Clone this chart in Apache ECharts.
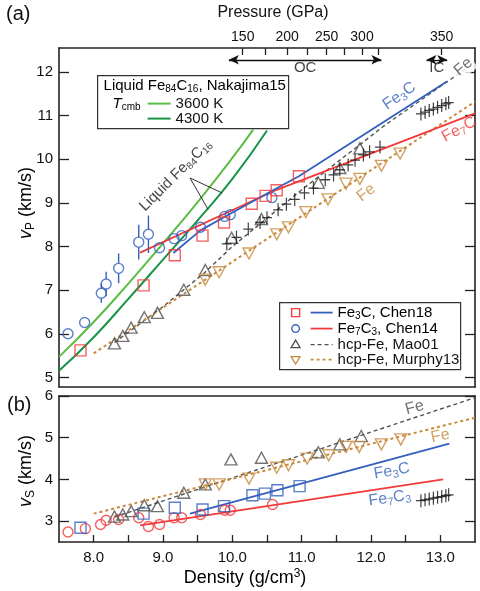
<!DOCTYPE html>
<html><head><meta charset="utf-8">
<script src="https://cdn.jsdelivr.net/npm/echarts@6/dist/echarts.min.js"></script>
<style>html,body{margin:0;padding:0;background:#fff}#c{width:480px;height:591px}</style>
</head><body><div id="c"></div>
<script>
// ---------- data: density (g/cm3) vs velocity (km/s) ----------
// panel (a): P-wave velocity
const liq3600 = [[7.5,5.47],[8.0,6.27],[8.5,7.15],[9.0,8.07],[9.5,9.02],[10.0,10.03],[10.3,10.68]];
const liq4300 = [[7.5,5.15],[8.0,5.92],[8.5,6.8],[9.0,7.7],[9.5,8.6],[10.0,9.55],[10.5,10.66]];
const fe3cSqA = [[7.81,5.62],[8.72,7.11],[9.17,7.80],[9.57,8.25],[9.88,8.55],[10.28,8.98],[10.48,9.16],[10.64,9.29],[10.96,9.61]];
const fe3cLineA = [[9.15,7.85],[9.54,8.37],[9.97,8.75],[10.6,9.3],[10.96,9.61],[13.1,11.79]];
const fe7c3CircA = [[7.63,6.0],[7.87,6.26],[8.11,6.93],[8.18,7.14],[8.36,7.50],[8.65,8.10],[8.79,8.28],[8.95,7.97],[9.16,8.18],[9.27,8.25],[9.54,8.44],[9.89,8.69],[9.97,8.73],[10.57,9.12]];
const fe7c3ErrA = [0,0,0.22,0.28,0.34,0.40,0.43,0,0,0,0,0,0.10,0];
const fe7c3LineA = [[8.67,7.86],[10.64,9.30],[13.5,11.05]];
const maoTriA = [[8.30,5.78],[8.42,5.95],[8.54,6.14],[8.73,6.38],[8.92,6.48],[9.30,7.01],[9.61,7.46],[9.99,8.20],[10.42,8.63],[11.24,9.46],[11.55,9.80],[11.84,10.25]];
const maoLineA = [[8.3,5.8],[9.0,6.62],[9.6,7.4],[10.0,8.0],[11.0,9.3],[12.2,10.78],[13.5,12.22]];
const murTriA = [[9.61,7.24],[9.81,7.41],[10.24,7.84],[10.64,8.28],[10.81,8.44],[11.06,8.79],[11.38,9.08],[11.64,9.44],[11.84,9.55],[12.15,9.85],[12.42,10.13]];
const murLineA = [[8.0,5.55],[9.0,6.6],[10.0,7.65],[11.0,8.7],[12.0,9.75],[13.5,11.32]];
const crossesA = [[9.92,8.06],[10.06,8.21],[10.23,8.40],[10.40,8.55],[10.50,8.66],[10.66,8.84],[10.78,8.97],[10.90,9.08],[11.04,9.23],[11.17,9.34],[11.34,9.53],[11.46,9.64],[11.55,9.76],[11.67,9.87],[11.77,9.98],[11.89,10.10],[11.98,10.17],[12.13,10.28],[12.72,11.04],[12.78,11.08],[12.84,11.12],[12.90,11.15],[12.96,11.19],[13.02,11.23],[13.08,11.27],[13.12,11.30]];

// panel (b): S-wave velocity
const fe3cSqB = [[7.81,2.84],[8.72,3.18],[9.17,3.32],[9.57,3.28],[9.88,3.36],[10.29,3.62],[10.47,3.66],[10.65,3.74],[10.97,3.84]];
const fe3cLineB = [[9.39,3.18],[13.13,4.86]];
const fe7c3CircB = [[7.63,2.74],[7.88,2.82],[8.10,2.92],[8.18,3.02],[8.36,3.04],[8.65,3.08],[8.79,2.87],[8.95,2.92],[9.16,3.08],[9.27,3.08],[9.54,3.16],[9.89,3.26],[9.97,3.26],[10.58,3.40]];
const fe7c3LineB = [[8.67,2.90],[13.04,4.0]];
const maoTriB = [[8.30,3.11],[8.42,3.16],[8.54,3.24],[8.73,3.38],[8.92,3.36],[9.30,3.68],[9.61,3.88],[9.98,4.48],[10.42,4.52],[11.24,4.65],[11.55,4.84],[11.86,5.04]];
const maoLineB = [[8.3,3.1],[13.5,5.96]];
const murTriB = [[9.61,3.88],[9.81,3.88],[10.24,4.02],[10.64,4.28],[10.81,4.34],[11.08,4.50],[11.39,4.58],[11.64,4.78],[11.83,4.78],[12.15,4.84],[12.43,4.96]];
const murLineB = [[8.0,3.18],[13.5,5.48]];
const crossesB = [[12.72,3.49],[12.78,3.51],[12.84,3.53],[12.90,3.55],[12.96,3.57],[13.02,3.59],[13.08,3.61],[13.12,3.63]];

// axes
const densityLabels = [8,9,10,11,12,13];
const densityTicks = [8,8.5,9,9.5,10,10.5,11,11.5,12,12.5,13];
const vpTicks = [5,6,7,8,9,10,11,12];
const vsTicks = [3,4,5,6];
const pressureLabels = [150,200,250,300,350];
const pressureLabelDensity = [10.15,10.79,11.36,11.87,13.02];
const pressureTickDensity = [10.15,10.47,10.79,11.08,11.36,11.62,11.87,12.1,13.02];
// core regions along density: outer core and inner core
const outerCore = [9.95,12.15];
const innerCore = [12.8,13.1];

// ---------- styling ----------
const FONT = '"Liberation Sans", Arial, Helvetica, sans-serif';
const RED = '#f23a3a', BLUE = '#3360bd', GRAY = '#505050', ORANGE = '#c78a3c';
const GREEN_L = '#5cbd45', GREEN_D = '#179448';
const AX = '#222';

const chart = echarts.init(document.getElementById('c'), null, {renderer: 'canvas'});

const richBase = (size, color) => ({
  n: {fontSize: size, color, fontFamily: FONT, lineHeight: size + 3},
  s: {fontSize: Math.round(size * 0.66), color, fontFamily: FONT, lineHeight: 8, verticalAlign: 'bottom'},
  u: {fontSize: Math.round(size * 0.66), color, fontFamily: FONT, lineHeight: 8, verticalAlign: 'top'},
  i: {fontSize: size, color, fontFamily: FONT, fontStyle: 'italic', lineHeight: size + 3}
});

function hollow(color, size, symbol) {
  return {symbol, symbolSize: size, itemStyle: {color: 'rgba(255,255,255,0)', borderColor: color, borderWidth: 1.4}};
}
const DOWN_TRI = 'path://M0,0L10,0L5,9Z';
const CROSS = 'path://M4.4,0h1.2v12h-1.2zM0,5.4h10v1.2h-10z';

function lineSeries(data, color, type, width, xi, yi, smooth) {
  return {type: 'line', data, xAxisIndex: xi, yAxisIndex: yi, showSymbol: false, symbol: 'none',
    smooth: smooth || false, lineStyle: {color, width, type}, silent: true, z: 2};
}
function scatterSeries(data, style, xi, yi) {
  return Object.assign({type: 'scatter', data, xAxisIndex: xi, yAxisIndex: yi, silent: true, z: 4}, style);
}
function textSeries(items, xi, yi) {
  return {type: 'scatter', xAxisIndex: xi, yAxisIndex: yi, silent: true, z: 5, symbolSize: 1,
    itemStyle: {color: 'rgba(0,0,0,0)'},
    data: items.map(t => ({value: t.at, label: Object.assign({show: true, position: 'inside', formatter: t.text,
      rotate: t.rot || 0, rich: richBase(t.size || 16, t.color)}, t.bg ? {backgroundColor: t.bg, padding: [0, 2]} : {})}))};
}
function errorBars(points, errs, color, xi, yi) {
  return {type: 'custom', xAxisIndex: xi, yAxisIndex: yi, silent: true, z: 3,
    data: points.map((p, i) => [p[0], p[1], errs[i]]),
    renderItem(params, api) {
      const e = api.value(2);
      if (!e) return null;
      const x = api.value(0), y = api.value(1);
      const c = api.coord([x, y]), top = api.coord([x, y + e]), bot = api.coord([x, y - e]);
      const r = 5;
      return {type: 'group', children: [
        {type: 'line', shape: {x1: c[0], y1: c[1] - r, x2: top[0], y2: top[1]}, style: {stroke: color, lineWidth: 1.4}},
        {type: 'line', shape: {x1: c[0], y1: c[1] + r, x2: bot[0], y2: bot[1]}, style: {stroke: color, lineWidth: 1.4}}
      ]};
    }};
}

const axisLine = {show: true, lineStyle: {color: AX, width: 1.6}};
const tickLabel = {color: '#111', fontSize: 15, fontFamily: FONT};

const option = {
  animation: false,
  backgroundColor: '#fff',
  grid: [
    {left: 59, top: 43, width: 416, height: 344},
    {left: 59, top: 396, width: 416, height: 146}
  ],
  xAxis: [
    {gridIndex: 0, type: 'value', min: 7.5, max: 13.5, position: 'bottom', axisLine,
      axisTick: {show: false}, axisLabel: {show: false}, splitLine: {show: false}},
    {gridIndex: 0, type: 'value', min: 7.5, max: 13.5, position: 'top', axisLine,
      axisTick: {show: true, inside: true, length: 7, customValues: pressureTickDensity, lineStyle: {color: AX, width: 1.3}},
      axisLabel: {show: true, customValues: pressureLabelDensity, margin: 4,
        formatter: v => { const i = pressureLabelDensity.findIndex(d => Math.abs(d - v) < 1e-6); return i >= 0 ? String(pressureLabels[i]) : ''; },
        color: '#111', fontSize: 14, fontFamily: FONT},
      splitLine: {show: false},
      name: 'Pressure (GPa)', nameLocation: 'middle', nameGap: 27,
      nameTextStyle: {fontSize: 16, color: '#111', fontFamily: FONT, padding: [0, 0, 0, 12]}},
    {gridIndex: 1, type: 'value', min: 7.5, max: 13.5, position: 'bottom', axisLine,
      axisTick: {show: true, inside: true, length: 7, customValues: densityTicks, lineStyle: {color: AX, width: 1.3}},
      axisLabel: Object.assign({show: true, customValues: densityLabels, margin: 8, formatter: v => v.toFixed(1)}, tickLabel),
      splitLine: {show: false}},
    {gridIndex: 1, type: 'value', min: 7.5, max: 13.5, position: 'top', axisLine,
      axisTick: {show: false}, axisLabel: {show: false}, splitLine: {show: false}}
  ],
  yAxis: [
    {gridIndex: 0, type: 'value', min: 4.78, max: 12.55, position: 'left', axisLine,
      axisTick: {show: true, inside: true, length: 10, customValues: vpTicks, lineStyle: {color: AX, width: 1.3}},
      axisLabel: Object.assign({show: true, customValues: vpTicks, margin: 6}, tickLabel), splitLine: {show: false}},
    {gridIndex: 0, type: 'value', min: 4.78, max: 12.55, position: 'right', axisLine,
      axisTick: {show: true, inside: true, length: 10, customValues: vpTicks, lineStyle: {color: AX, width: 1.3}},
      axisLabel: {show: false}, splitLine: {show: false}},
    {gridIndex: 1, type: 'value', min: 2.5, max: 6, position: 'left', axisLine,
      axisTick: {show: true, inside: true, length: 10, customValues: vsTicks, lineStyle: {color: AX, width: 1.3}},
      axisLabel: Object.assign({show: true, customValues: vsTicks, margin: 6}, tickLabel), splitLine: {show: false}},
    {gridIndex: 1, type: 'value', min: 2.5, max: 6, position: 'right', axisLine,
      axisTick: {show: true, inside: true, length: 10, customValues: vsTicks, lineStyle: {color: AX, width: 1.3}},
      axisLabel: {show: false}, splitLine: {show: false}}
  ],
  series: [
    // ---- panel (a) ----
    lineSeries(liq3600, GREEN_L, 'solid', 2, 0, 0, true),
    lineSeries(liq4300, GREEN_D, 'solid', 2, 0, 0, true),
    lineSeries(maoLineA, GRAY, [4, 3], 1.4, 0, 0),
    lineSeries(murLineA, ORANGE, [3, 3], 2, 0, 0),
    lineSeries(fe7c3LineA, RED, 'solid', 1.8, 0, 0),
    lineSeries(fe3cLineA, BLUE, 'solid', 1.8, 0, 0),
    errorBars(fe7c3CircA, fe7c3ErrA, BLUE, 0, 0),
    scatterSeries(fe7c3CircA, hollow(BLUE, 10, 'circle'), 0, 0),
    scatterSeries(fe3cSqA, hollow(RED, 11, 'rect'), 0, 0),
    scatterSeries(maoTriA, hollow(GRAY, [12, 11], 'triangle'), 0, 0),
    scatterSeries(murTriA, hollow(ORANGE, [12, 11], DOWN_TRI), 0, 0),
    scatterSeries(crossesA, {symbol: CROSS, symbolSize: [10, 13], itemStyle: {color: '#111'}}, 0, 0),
    // pointer lines for the liquid label
    {type: 'line', xAxisIndex: 0, yAxisIndex: 0, silent: true, symbol: 'none', z: 3,
      lineStyle: {color: '#333', width: 1}, data: [[9.85, 9.23], [9.39, 9.57], [9.65, 8.85]]},
    // OC / IC extent arrows
    {type: 'line', xAxisIndex: 0, yAxisIndex: 0, silent: true, symbol: 'none', data: [],
      markLine: {silent: true, symbol: ['arrow', 'arrow'], symbolSize: [7, 10], label: {show: false},
        lineStyle: {color: '#111', type: 'solid', width: 1.3},
        data: [
          [{coord: [outerCore[0], 12.28]}, {coord: [outerCore[1], 12.28]}],
          [{coord: [innerCore[0], 12.28]}, {coord: [innerCore[1], 12.28]}]
        ]}},
    textSeries([
      {at: [11.05, 12.1], text: '{n|OC}', color: '#111', size: 15},
      {at: [12.95, 12.1], text: '{n|IC}', color: '#111', size: 15},
      {at: [12.41, 11.45], text: '{n|Fe}{s|3}{n|C}', color: BLUE, rot: 35},
      {at: [13.27, 10.68], text: '{n|Fe}{s|7}{n|C}', color: RED, rot: 28},
      {at: [13.33, 12.12], text: '{n|Fe}', color: GRAY, rot: 40, bg: '#fff'},
      {at: [11.93, 9.23], text: '{n|Fe}', color: ORANGE, rot: 38},
      {at: [9.18, 9.63], text: '{n|Liquid Fe}{s|84}{n|C}{s|16}', color: '#111', size: 15, rot: 45}
    ], 0, 0),

    // ---- panel (b) ----
    lineSeries(maoLineB, GRAY, [4, 3], 1.4, 2, 2),
    lineSeries(murLineB, ORANGE, [3, 3], 2, 2, 2),
    lineSeries(fe7c3LineB, RED, 'solid', 1.8, 2, 2),
    lineSeries(fe3cLineB, BLUE, 'solid', 1.8, 2, 2),
    scatterSeries(fe7c3CircB, hollow(RED, 10, 'circle'), 2, 2),
    scatterSeries(fe3cSqB, hollow(BLUE, 11, 'rect'), 2, 2),
    scatterSeries(maoTriB, hollow(GRAY, [12, 11], 'triangle'), 2, 2),
    scatterSeries(murTriB, hollow(ORANGE, [12, 11], DOWN_TRI), 2, 2),
    scatterSeries(crossesB, {symbol: CROSS, symbolSize: [10, 13], itemStyle: {color: '#111'}}, 2, 2),
    textSeries([
      {at: [12.63, 5.72], text: '{n|Fe}', color: GRAY, rot: 15},
      {at: [13.0, 5.04], text: '{n|Fe}', color: ORANGE, rot: 12},
      {at: [12.3, 4.2], text: '{n|Fe}{s|3}{n|C}', color: BLUE, rot: 10},
      {at: [12.27, 3.55], text: '{n|Fe}{s|7}{n|C}{s|3}', color: BLUE, rot: 8}
    ], 2, 2)
  ],
  graphic: [
    // panel tags
    {type: 'text', left: 6, top: 4, style: {text: '(a)', fontSize: 20, fill: '#111', fontFamily: FONT}},
    {type: 'text', left: 7, top: 395, style: {text: '(b)', fontSize: 20, fill: '#111', fontFamily: FONT}},
    // axis titles
    {type: 'text', x: 26, y: 203, rotation: Math.PI / 2, z: 10,
      style: {text: '{i|v}{s|P}{n| (km/s)}', rich: richBase(18, '#111'), align: 'center', verticalAlign: 'middle'}},
    {type: 'text', x: 26, y: 471, rotation: Math.PI / 2, z: 10,
      style: {text: '{i|v}{s|S}{n| (km/s)}', rich: richBase(18, '#111'), align: 'center', verticalAlign: 'middle'}},
    {type: 'text', x: 245, y: 578, z: 10,
      style: {text: '{n|Density (g/cm}{u|3}{n|)}', rich: richBase(18, '#111'), align: 'center', verticalAlign: 'middle'}},
    // liquid legend
    {type: 'group', left: 97, top: 75, z: 100, children: [
      {type: 'rect', shape: {x: 0, y: 0, width: 191, height: 53}, style: {fill: '#fff', stroke: '#333', lineWidth: 1.2}},
      {type: 'text', x: 6, y: 10, style: {text: '{n|Liquid Fe}{s|84}{n|C}{s|16}{n|, Nakajima15}', rich: richBase(15, '#111'), verticalAlign: 'middle'}},
      {type: 'text', x: 15, y: 28, style: {text: '{i|T}{s|cmb}', rich: richBase(15, '#111'), verticalAlign: 'middle'}},
      {type: 'line', shape: {x1: 50, y1: 28, x2: 73, y2: 28}, style: {stroke: GREEN_L, lineWidth: 2}},
      {type: 'text', x: 78, y: 28, style: {text: '3600 K', fontSize: 15, fill: '#111', fontFamily: FONT, verticalAlign: 'middle'}},
      {type: 'line', shape: {x1: 50, y1: 43, x2: 73, y2: 43}, style: {stroke: GREEN_D, lineWidth: 2}},
      {type: 'text', x: 78, y: 43, style: {text: '4300 K', fontSize: 15, fill: '#111', fontFamily: FONT, verticalAlign: 'middle'}}
    ]},
    // data legend
    {type: 'group', left: 279, top: 302, z: 100, children: [
      {type: 'rect', shape: {x: 0, y: 0, width: 181, height: 67}, style: {fill: '#fff', stroke: '#333', lineWidth: 1.2}},
      {type: 'rect', shape: {x: 12, y: 6, width: 8, height: 8}, style: {fill: 'none', stroke: RED, lineWidth: 1.4}},
      {type: 'line', shape: {x1: 31, y1: 10, x2: 53, y2: 10}, style: {stroke: BLUE, lineWidth: 1.8}},
      {type: 'text', x: 58, y: 10, style: {text: '{n|Fe}{s|3}{n|C, Chen18}', rich: richBase(15, '#111'), verticalAlign: 'middle'}},
      {type: 'circle', shape: {cx: 16, cy: 26, r: 3.8}, style: {fill: 'none', stroke: BLUE, lineWidth: 1.4}},
      {type: 'line', shape: {x1: 31, y1: 26, x2: 53, y2: 26}, style: {stroke: RED, lineWidth: 1.8}},
      {type: 'text', x: 58, y: 26, style: {text: '{n|Fe}{s|7}{n|C}{s|3}{n|, Chen14}', rich: richBase(15, '#111'), verticalAlign: 'middle'}},
      {type: 'polygon', shape: {points: [[16, 37.5], [20.5, 45], [11.5, 45]]}, style: {fill: 'none', stroke: GRAY, lineWidth: 1.3}},
      {type: 'line', shape: {x1: 31, y1: 42, x2: 53, y2: 42}, style: {stroke: GRAY, lineWidth: 1.3, lineDash: [4, 3]}},
      {type: 'text', x: 58, y: 42, style: {text: 'hcp-Fe, Mao01', fontSize: 15, fill: '#111', fontFamily: FONT, verticalAlign: 'middle'}},
      {type: 'polygon', shape: {points: [[11.5, 54], [20.5, 54], [16, 61.5]]}, style: {fill: 'none', stroke: ORANGE, lineWidth: 1.3}},
      {type: 'line', shape: {x1: 31, y1: 57, x2: 53, y2: 57}, style: {stroke: ORANGE, lineWidth: 1.8, lineDash: [3, 3]}},
      {type: 'text', x: 58, y: 57, style: {text: 'hcp-Fe, Murphy13', fontSize: 15, fill: '#111', fontFamily: FONT, verticalAlign: 'middle'}}
    ]}
  ]
};
chart.setOption(option);
</script></body></html>
